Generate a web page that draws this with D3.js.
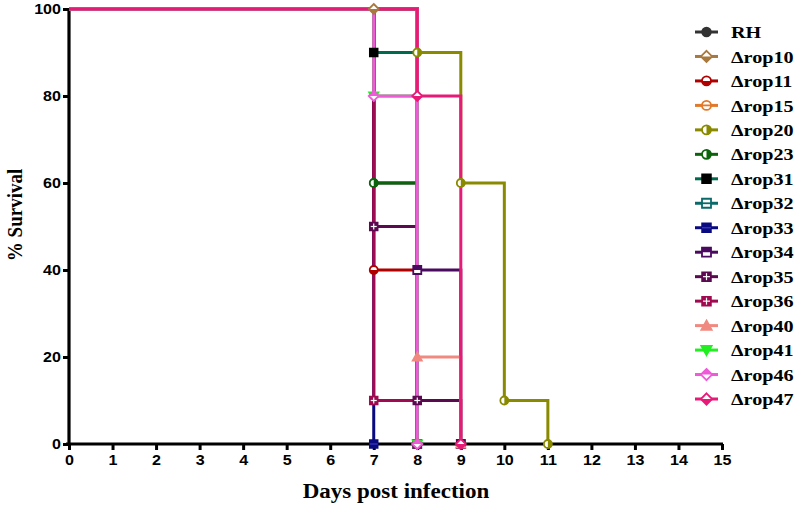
<!DOCTYPE html>
<html>
<head>
<meta charset="utf-8">
<script src="https://cdn.jsdelivr.net/npm/d3@7"></script>
<style>
  html, body { margin: 0; padding: 0; background: #fff; }
  svg { display: block; }
</style>
</head>
<body>
<svg id="chart" width="800" height="505"></svg>
<script>
// ---- data ----
const seriesNames = ["RH","Δrop10","Δrop11","Δrop15","Δrop20","Δrop23","Δrop31","Δrop32","Δrop33","Δrop34","Δrop35","Δrop36","Δrop40","Δrop41","Δrop46","Δrop47"];
const seriesDays = [
  [0,7,8],        // RH
  [0,7,8],        // rop10
  [0,7,8],        // rop11
  [0,8],          // rop15
  [0,8,9,10,11],  // rop20
  [0,7,8],        // rop23
  [0,7,8],        // rop31
  [0,8],          // rop32
  [0,7],          // rop33
  [0,8,9],        // rop34
  [0,7,8,9],      // rop35
  [0,7,8],        // rop36
  [0,8,9],        // rop40
  [0,7,8],        // rop41
  [0,7,8],        // rop46
  [0,8,9]         // rop47
];
const seriesSurvival = [
  [100,60,0],
  [100,100,0],
  [100,40,0],
  [100,0],
  [100,90,60,10,0],
  [100,60,0],
  [100,90,0],
  [100,0],
  [100,0],
  [100,40,0],
  [100,50,10,0],
  [100,10,0],
  [100,20,0],
  [100,80,0],
  [100,80,0],
  [100,80,0]
];
const xTicks = [0,1,2,3,4,5,6,7,8,9,10,11,12,13,14,15];
const yTicks = [0,20,40,60,80,100];

// ---- styles ----
const lineColors = ["#333333","#a8793f","#b00000","#e07a2a","#8a8a00","#0b640b","#006a4e","#0a6a6a","#0a0a80","#4a0a60","#5c0a50","#a00a50","#f08a80","#22ee22","#ee5ad8","#e81a78"];
const markerColors = ["#333333","#a8793f","#b00000","#e07a2a","#8a8a00","#0b640b","#000000","#0a6a6a","#0a0a80","#4a0a60","#5c0a50","#a00a50","#f08a80","#22ee22","#ee5ad8","#e81a78"];
const markerShapes = ["circle","diamond","circle","circle","circle","circle","square","square","square","square","square","square","triUp","triDown","diamond","diamond"];
const markerFills = ["full","bottom","bottom","hline","right","right","full","hline","hlineFull","top","plus","plus","full","full","top","bottom"];

const svg = d3.select("#chart");
const x = d3.scaleLinear().domain([0,15]).range([69, 722]);
const y = d3.scaleLinear().domain([0,100]).range([444, 9]);
const SX = 1.15; // horizontal stretch of the text in the reference

// clip paths for half-filled markers
const defs = svg.append("defs");
const halves = {
  top: [-10,-10,20,10], bottom: [-10,0,20,10], left: [-10,-10,10,20], right: [0,-10,10,20]
};
Object.entries(halves).forEach(([k,r]) => {
  defs.append("clipPath").attr("id","clip-"+k)
    .append("rect").attr("x",r[0]).attr("y",r[1]).attr("width",r[2]).attr("height",r[3]);
});

function shapePath(shape, s) {
  const h = s/2;
  switch (shape) {
    case "circle": return d3.symbol(d3.symbolCircle, Math.PI*h*h)();
    case "square": return `M${-h},${-h}H${h}V${h}H${-h}Z`;
    case "diamond": { const d = h*1.25; return `M0,${-d}L${d},0L0,${d}L${-d},0Z`; }
    case "triUp": { const d = h*1.2; return `M0,${-d}L${d},${d*0.8}L${-d},${d*0.8}Z`; }
    case "triDown": { const d = h*1.2; return `M0,${d}L${d},${-d*0.8}L${-d},${-d*0.8}Z`; }
  }
}

function drawMarker(parent, i, cx, cy, s) {
  const g = parent.append("g").attr("transform", `translate(${cx},${cy})`);
  const col = markerColors[i], shape = markerShapes[i], fill = markerFills[i];
  const p = shapePath(shape, s);
  if (fill === "full") {
    g.append("path").attr("d", p).attr("fill", col).attr("stroke", col).attr("stroke-width", 1.5);
  } else if (fill === "top" || fill === "bottom" || fill === "left" || fill === "right") {
    g.append("path").attr("d", p).attr("fill", "#fff").attr("stroke", col).attr("stroke-width", 1.8);
    g.append("path").attr("d", p).attr("fill", col).attr("clip-path", `url(#clip-${fill})`);
  } else if (fill === "hline") {
    g.append("path").attr("d", p).attr("fill", "#fff").attr("stroke", col).attr("stroke-width", 1.8);
    g.append("line").attr("x1", -s/2).attr("x2", s/2).attr("stroke", col).attr("stroke-width", 1.8);
  } else if (fill === "hlineFull") {
    g.append("path").attr("d", p).attr("fill", col).attr("stroke", col).attr("stroke-width", 1.5);
    g.append("line").attr("x1", -s/2).attr("x2", s/2).attr("stroke", "#3a3ac0").attr("stroke-width", 1.2);
  } else if (fill === "plus") {
    g.append("path").attr("d", p).attr("fill", col).attr("stroke", col).attr("stroke-width", 1.5);
    g.append("line").attr("x1", -s/2+1).attr("x2", s/2-1).attr("stroke", "#fff").attr("stroke-width", 1.2);
    g.append("line").attr("y1", -s/2+1).attr("y2", s/2-1).attr("stroke", "#fff").attr("stroke-width", 1.2);
  }
}

// ---- axes ----
const xAxis = d3.axisBottom(x).tickValues(xTicks).tickSize(6).tickSizeOuter(0).tickPadding(5);
const yAxis = d3.axisLeft(y).tickValues(yTicks).tickSize(6).tickSizeOuter(0).tickPadding(2);

const gx = svg.append("g").attr("transform", `translate(0,${y(0)})`).call(xAxis);
const gy = svg.append("g").attr("transform", `translate(${x(0)},0)`).call(yAxis);
[gx, gy].forEach(g => {
  g.select(".domain").attr("stroke", "#000").attr("stroke-width", 3.2);
  g.selectAll(".tick line").attr("stroke", "#000").attr("stroke-width", 3);
  g.selectAll(".tick text").attr("fill", "#000")
    .attr("font-family", "'Liberation Sans', Arial, sans-serif")
    .attr("font-weight", "bold").attr("font-size", 14);
});
gx.selectAll(".tick text").attr("transform", `scale(${SX},1)`);
gy.selectAll(".tick text").attr("x", null).attr("transform", `translate(-8,0) scale(${SX},1)`);
gy.select(".domain").attr("d", `M0,${y(100)}V${y(0)+1.6}`);
gx.select(".domain").attr("d", `M${x(0)-3},0H${x(15)+1}`);

// ---- series ----
const line = d3.line().curve(d3.curveStepAfter).x(d => x(d[0])).y(d => y(d[1]));
const gSeries = svg.append("g");
seriesNames.forEach((name, i) => {
  const pts = seriesDays[i].map((d, j) => [d, seriesSurvival[i][j]]);
  gSeries.append("path").datum(pts).attr("d", line)
    .attr("fill", "none").attr("stroke", lineColors[i]).attr("stroke-width", 3);
});
seriesNames.forEach((name, i) => {
  const pts = seriesDays[i].map((d, j) => [d, seriesSurvival[i][j]]);
  pts.slice(1).forEach(p => drawMarker(gSeries, i, x(p[0]), y(p[1]), 8));
});

// ---- legend ----
const legend = svg.append("g");
const legY = d3.scalePoint().domain(seriesNames).range([32, 399]);
seriesNames.forEach((name, i) => {
  const yy = legY(name);
  legend.append("line").attr("x1", 695).attr("x2", 718).attr("y1", yy).attr("y2", yy)
    .attr("stroke", lineColors[i]).attr("stroke-width", 3);
  drawMarker(legend, i, 706.5, yy, 9);
  legend.append("text").attr("transform", `translate(731,${yy}) scale(${SX},1)`).attr("dy", "0.35em")
    .attr("font-family", "'Liberation Serif', 'Times New Roman', serif")
    .attr("font-weight", "bold").attr("font-size", 17.5).attr("fill", "#000")
    .text(name);
});

// ---- axis titles ----
svg.append("text").attr("transform", `translate(396,498) scale(${SX},1)`)
  .attr("text-anchor", "middle")
  .attr("font-family", "'Liberation Serif', 'Times New Roman', serif")
  .attr("font-weight", "bold").attr("font-size", 20).attr("fill", "#000")
  .text("Days post infection");
svg.append("text").attr("transform", `translate(22,215) scale(${SX},1) rotate(-90)`)
  .attr("text-anchor", "middle")
  .attr("font-family", "'Liberation Serif', 'Times New Roman', serif")
  .attr("font-weight", "bold").attr("font-size", 19).attr("fill", "#000")
  .text("% Survival");
</script>
</body>
</html>
